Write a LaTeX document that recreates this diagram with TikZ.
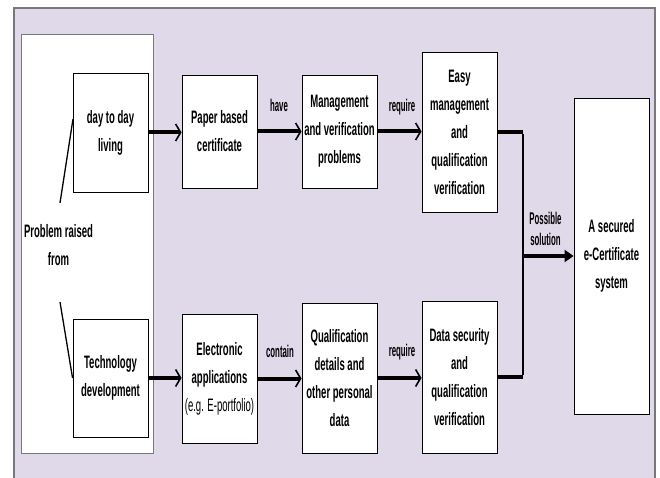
\documentclass[tikz,border=0pt]{standalone}
\usepackage{fontspec}
\setmainfont{Liberation Sans}
\newfontfamily\boxfont[FakeStretch=0.53]{Liberation Sans}
\newfontfamily\tagfont[FakeStretch=0.46]{Liberation Sans}
\usetikzlibrary{arrows.meta}
\definecolor{panel}{RGB}{224,217,233}
\definecolor{framegray}{RGB}{120,120,120}

\begin{document}
\begin{tikzpicture}[x=1pt,y=-1pt,
  boxtext/.style={align=center, font=\boxfont\bfseries\fontsize{18}{28}\selectfont, inner sep=0pt},
  stage/.style={boxtext, draw=black, line width=0.9pt, fill=white,
    minimum width=75pt},
  tag/.style={align=center, font=\tagfont\bfseries\fontsize{17}{21.6}\selectfont, inner sep=0pt},
  flow/.style={line width=4pt, -{Straight Barb[length=5pt,width=17pt,line width=1.6pt 0]}},
  trunk/.style={line width=4pt},
  solution/.style={line width=4pt, -{Triangle[length=9pt,width=12pt]}},
  branch/.style={line width=1.3pt}]

\useasboundingbox (0,0) rectangle (660,478);
\fill[white] (0,0) rectangle (660,478);

% background panel
\draw[framegray, line width=1.2pt, fill=panel] (14,8) rectangle (655,490);

% enclosing box of the problem sources
\node[draw=framegray, line width=1pt, fill=white, minimum width=132pt,
  minimum height=418pt, inner sep=0pt] (outer) at (87,244) {};
\node[boxtext] (prob) at (58.5,245.5) {Problem raised\\from};

% stages
\node[stage, minimum height=119pt] (day)   at (110.5,132.5) {day to day\\living};
\node[stage, minimum height=113pt] (paper) at (219.5,131.5) {Paper based\\certificate};
\node[stage, minimum height=113pt] (mgmt)  at (339.5,131.5) {Management\\and verification\\problems};
\node[stage, minimum height=160pt] (easy)  at (459.5,132)   {Easy\\management\\and\\qualification\\verification};

\node[stage, minimum height=118pt] (tech)  at (110.5,378)   {Technology\\development};
\node[stage, minimum height=129pt] (elec)  at (219.5,378.5) {Electronic\\applications\\{\mdseries (e.g. E-portfolio)}};
\node[stage, minimum height=150pt] (qual)  at (339.5,378)   {Qualification\\details and\\other personal\\data};
\node[stage, minimum height=152pt] (data)  at (459.5,377)   {Data security\\and\\qualification\\verification};

\node[stage, minimum height=316pt] (ecert) at (611.5,256)   {A secured\\e-Certificate\\system};

% branches from the problem label
\coordinate (dayedge) at (73,119);
\coordinate (probtop) at (60,203);
\coordinate (probbot) at (60,302);
\draw[branch] (probtop) -- (dayedge);
\draw[branch] (probbot) -- (tech.west);

% flows
\draw[flow] (day.east)  -- (day.east -| paper.west);
\draw[flow] (paper.east) -- (paper.east -| mgmt.west);
\draw[flow] (mgmt.east) -- (mgmt.east -| easy.west);
\draw[flow] (tech.east) -- (tech.east -| elec.west);
\draw[flow] (elec.east) -- (elec.east -| qual.west);
\draw[flow] (qual.east) -- (qual.east -| data.west);

% merging towards the solution
\coordinate (jtop) at (523,132);
\coordinate (jbot) at (523,377);
\coordinate (jmid) at (522,256);
\draw[trunk] (easy.east) -- (jtop);
\draw[trunk] (data.east) -- (jbot);
\draw[line width=2.2pt] ([yshift=-2pt]jtop) -- ([yshift=2pt]jbot);
\draw[solution] (jmid) -- (jmid -| ecert.west);

% connector labels
\node[tag] (lhave)    at (279,105.5) {have};
\node[tag] (lreq1)    at (402,107)   {require};
\node[tag] (lcontain) at (280,351)   {contain};
\node[tag] (lreq2)    at (402,352.5) {require};
\node[tag] (lsol)     at (545.5,229) {Possible\\solution};

\end{tikzpicture}
\end{document}
